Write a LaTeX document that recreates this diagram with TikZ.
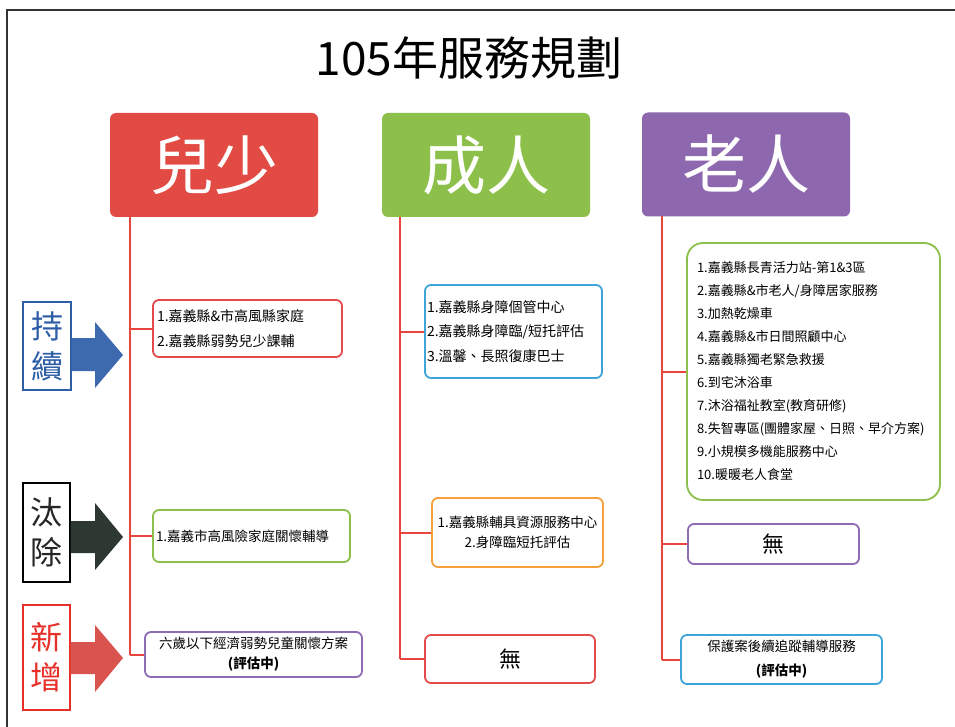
\documentclass[tikz,border=0pt]{standalone}
\usepackage{fontspec}
\setmainfont{Noto Sans CJK TC}
\definecolor{hdrred}{HTML}{E24A44}
\definecolor{hdrgreen}{HTML}{8CC04A}
\definecolor{hdrpurple}{HTML}{8D68AE}
\definecolor{linered}{HTML}{E8453C}
\definecolor{bred}{HTML}{E34A4A}
\definecolor{bblue}{HTML}{3DA5D9}
\definecolor{bgreen}{HTML}{8CC04A}
\definecolor{bpurple}{HTML}{8E6BB5}
\definecolor{borange}{HTML}{F5A03A}
\definecolor{lblue}{HTML}{2E5FA6}
\definecolor{ablue}{HTML}{3D6AAE}
\definecolor{adark}{HTML}{2D3833}
\definecolor{ared}{HTML}{D9534F}
\definecolor{lred}{HTML}{E8302A}
\definecolor{framegray}{HTML}{333333}
\tikzset{
  hdr/.style={rounded corners=6pt, text=white, font=\fontsize{64}{70}\selectfont, inner sep=0pt},
  conn/.style={draw=linered, line width=2pt},
  box/.style={draw, rounded corners=6pt, line width=1.8pt, fill=white, inner ysep=0pt},
  lbl/.style={draw, line width=1.4pt, inner sep=0pt, align=center, font=\fontsize{32}{40}\selectfont},
  txt/.style={font=\fontsize{13.5}{24}\selectfont},
}
\begin{document}
\begin{tikzpicture}[x=1pt,y=-1pt]
\useasboundingbox (0,0) rectangle (955,727);
\fill[white] (0,0) rectangle (955,727);
\draw[framegray, line width=1.5pt] (7,727) -- (7,10) -- (955,10);

\node[font=\fontsize{46}{50}\selectfont] (title) at (469,58) {105年服務規劃};

% headers
\node[hdr, fill=hdrred, minimum width=208pt, minimum height=104pt] (h1) at (214,165) {兒少};
\node[hdr, fill=hdrgreen, minimum width=208pt, minimum height=104pt] (h2) at (486,165) {成人};
\node[hdr, fill=hdrpurple, minimum width=208pt, minimum height=104pt] (h3) at (746,164.5) {老人};

% vertical lines
\coordinate (v1top) at (130,217);
\coordinate (v2top) at (400,217);
\coordinate (v3top) at (662,216);

% column 1 boxes
\node[box, draw=bred, txt, font=\fontsize{14}{25}\selectfont, text width=181pt, inner xsep=4pt, align=left, minimum height=57pt] (b11) at (247.5,328.5)
  {1.嘉義縣\&市高風縣家庭\\2.嘉義縣弱勢兒少課輔};
\node[box, draw=bgreen, txt, text width=191pt, inner xsep=3pt, align=left, minimum height=52pt] (b12) at (251.5,536)
  {1.嘉義市高風險家庭關懷輔導};
\node[box, draw=bpurple, txt, font=\fontsize{13.5}{20}\selectfont, text width=209pt, inner xsep=4pt, align=center, minimum height=45pt] (b13) at (253.5,654.5)
  {六歲以下經濟弱勢兒童關懷方案\\\textbf{(評估中)}};

% column 2 boxes
\node[box, draw=bblue, txt, font=\fontsize{14}{24.5}\selectfont, text width=173pt, inner xsep=2pt, align=left, minimum height=93pt] (b21) at (513.5,331.5)
  {1.嘉義縣身障個管中心\\2.嘉義縣身障臨/短托評估\\3.溫馨、長照復康巴士};
\node[box, draw=borange, txt, font=\fontsize{13.5}{20}\selectfont, text width=163pt, inner xsep=4pt, align=center, minimum height=69pt] (b22) at (517.5,532.5)
  {1.嘉義縣輔具資源服務中心\\2.身障臨短托評估};
\node[box, draw=bred, font=\fontsize{22}{26}\selectfont, minimum width=170pt, minimum height=48pt] (b23) at (510,659) {無};

% column 3 boxes
\node[box, draw=bgreen, rounded corners=16pt, font=\fontsize{13}{23}\selectfont, text width=233pt, inner xsep=10pt, align=left, minimum height=257pt] (b31) at (813.5,371.5)
  {1.嘉義縣長青活力站-第1\&3區\\2.嘉義縣\&市老人/身障居家服務\\3.加熱乾燥車\\4.嘉義縣\&市日間照顧中心\\5.嘉義縣獨老緊急救援\\6.到宅沐浴車\\7.沐浴福祉教室(教育研修)\\8.失智專區(團體家屋、日照、早介方案)\\9.小規模多機能服務中心\\10.暖暖老人食堂};
\node[box, draw=bpurple, font=\fontsize{22}{26}\selectfont, minimum width=171pt, minimum height=40pt] (b32) at (773.5,544) {無};
\node[box, draw=bblue, txt, font=\fontsize{13.5}{24}\selectfont, text width=193pt, inner xsep=4pt, align=center, minimum height=49pt] (b33) at (781.5,659.5)
  {保護案後續追蹤輔導服務\\\textbf{(評估中)}};

% connectors
\draw[conn] (v1top) -- (v1top |- b13.west);
\draw[conn] (v2top) -- (v2top |- b23.west);
\draw[conn] (v3top) -- (v3top |- b33.west);
\foreach \b in {b11,b12,b13}{\draw[conn] (\b.west) -- (\b.west -| v1top);}
\foreach \b in {b21,b22,b23}{\draw[conn] (\b.west) -- (\b.west -| v2top);}
\foreach \b in {b31,b32,b33}{\draw[conn] (\b.west) -- (\b.west -| v3top);}

% side labels
\node[lbl, draw=lblue, text=lblue, minimum width=48pt, minimum height=88pt] (L1) at (47,346) {持\\續};
\node[lbl, draw=black, text=black!85, minimum width=47pt, minimum height=99pt] (L2) at (46.5,532.5) {汰\\除};
\node[lbl, draw=lred, text=lred, minimum width=47pt, minimum height=105pt] (L3) at (46.5,657.5) {新\\增};

% fat arrows
\fill[ablue] (L1.east |- 0,338) -- (95,338) -- (95,322) -- (123,355) -- (95,388) -- (95,371) -- (L1.east |- 0,371) -- cycle;
\fill[adark] (L2.east |- 0,521) -- (95,521) -- (95,503) -- (123,537) -- (95,570) -- (95,553) -- (L2.east |- 0,553) -- cycle;
\fill[ared] (L3.east |- 0,642) -- (95,642) -- (95,625) -- (123,658) -- (95,692) -- (95,674) -- (L3.east |- 0,674) -- cycle;
\end{tikzpicture}
\end{document}
